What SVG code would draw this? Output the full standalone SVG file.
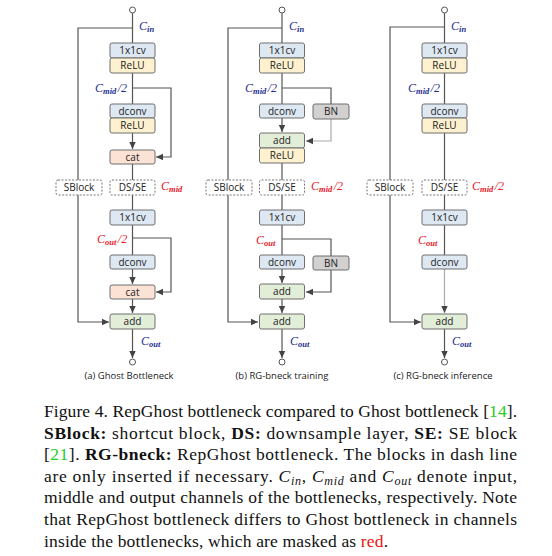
<svg xmlns="http://www.w3.org/2000/svg" width="552" height="556" viewBox="0 0 552 556">
<defs>
<marker id="ah" markerUnits="userSpaceOnUse" markerWidth="8" markerHeight="8" viewBox="0 0 8 8" refX="7" refY="4" orient="auto">
<path d="M0,0.8 L7,4 L0,7.2 Z" fill="#444"/>
</marker>
<style>
.b{stroke:#6f6f6f;stroke-width:1;}
.cv{fill:#dde8f3;}
.re{fill:#fdf1cf;}
.ca{fill:#fbe2d4;}
.ad{fill:#e3eed9;}
.bn{fill:#d3d0d0;}
.ds{fill:#fff;stroke:#777;stroke-width:1;stroke-dasharray:2,1.5;}
.t{font-family:"Open Sans","Liberation Sans",sans-serif;font-size:10px;fill:#222;text-anchor:middle;}
.l{fill:none;stroke:#555;stroke-width:1.2;}
.lg{fill:none;stroke:#aaa;stroke-width:1.2;}
.c{font-family:"Liberation Serif",serif;font-style:italic;font-size:12px;}
.nv{fill:#1f2f8f;}
.rd{fill:#e8202a;}
.s{font-size:8.5px;font-weight:bold;}
.cap{font-family:"Open Sans","Liberation Sans",sans-serif;font-size:9.5px;fill:#222;text-anchor:middle;}
.tx{font-family:"Liberation Serif","Times New Roman",serif;font-size:17.5px;fill:#111;}
.bd{font-weight:bold;}
.gr{fill:#22cc22;}
.it{font-style:italic;}
</style>
</defs>

<!-- connectors -->
<g id="connectors">
<!-- panel a -->
<path class="l" d="M132.5,13 V43"/>
<path class="l" d="M132.5,28 H78 V180"/>
<path class="l" d="M78,195 V322 H109" marker-end="url(#ah)"/>
<path class="l" d="M132.5,73 V104"/>
<path class="l" d="M132.5,88 H171 V157 H156" marker-end="url(#ah)"/>
<path class="l" d="M132.5,133 V149" marker-end="url(#ah)"/>
<path class="l" d="M132.5,164 V180"/>
<path class="l" d="M132.5,195 V210"/>
<path class="l" d="M132.5,225 V255"/>
<path class="l" d="M132.5,238 H171 V292 H156" marker-end="url(#ah)"/>
<path class="l" d="M132.5,269 V284" marker-end="url(#ah)"/>
<path class="l" d="M132.5,299 V313" marker-end="url(#ah)"/>
<path class="l" d="M132.5,329 V358" marker-end="url(#ah)"/>
<!-- panel b -->
<path class="l" d="M282,13 V43"/>
<path class="l" d="M282,28 H228 V180"/>
<path class="l" d="M228,195 V322 H258" marker-end="url(#ah)"/>
<path class="l" d="M282,73 V104"/>
<path class="l" d="M282,88 H331 V104"/>
<path class="lg" d="M331,119 V141 H306" marker-end="url(#ah)"/>
<path class="l" d="M282,118 V132" marker-end="url(#ah)"/>
<path class="l" d="M282,163 V180"/>
<path class="l" d="M282,195 V210"/>
<path class="l" d="M282,225 V255"/>
<path class="l" d="M282,239 H331 V256"/>
<path class="l" d="M331,270 V292 H306" marker-end="url(#ah)"/>
<path class="l" d="M282,269 V283" marker-end="url(#ah)"/>
<path class="l" d="M282,299 V313" marker-end="url(#ah)"/>
<path class="l" d="M282,329 V358" marker-end="url(#ah)"/>
<!-- panel c -->
<path class="l" d="M444.5,13 V43"/>
<path class="l" d="M444.5,27 H390 V180"/>
<path class="l" d="M390,195 V322 H421" marker-end="url(#ah)"/>
<path class="l" d="M444.5,73 V104"/>
<path class="l" d="M444.5,133 V180"/>
<path class="l" d="M444.5,195 V210"/>
<path class="l" d="M444.5,225 V255"/>
<path class="lg" d="M444.5,269 V313" marker-end="url(#ah)"/>
<path class="l" d="M444.5,329 V358" marker-end="url(#ah)"/>
</g>

<!-- terminals -->
<g id="terminals" fill="#fff" stroke="#555" stroke-width="1">
<circle cx="132.5" cy="10" r="3"/><circle cx="132.5" cy="362" r="3"/>
<circle cx="282" cy="10" r="3"/><circle cx="282" cy="362" r="3"/>
<circle cx="444.5" cy="10" r="3"/><circle cx="444.5" cy="362" r="3"/>
</g>

<!-- panel a nodes -->
<g id="a-1x1cv"><rect class="b cv" x="110" y="43" width="45" height="15" rx="2"/><text class="t" x="132.5" y="54">1x1cv</text></g>
<g id="a-relu1"><rect class="b re" x="110" y="58" width="45" height="15" rx="2"/><text class="t" x="132.5" y="69">ReLU</text></g>
<g id="a-dconv"><rect class="b cv" x="110" y="104" width="45" height="14" rx="2"/><text class="t" x="132.5" y="114.5">dconv</text></g>
<g id="a-relu2"><rect class="b re" x="110" y="118" width="45" height="15" rx="2"/><text class="t" x="132.5" y="129">ReLU</text></g>
<g id="a-cat1"><rect class="b ca" x="110" y="150" width="45" height="14" rx="2"/><text class="t" x="132.5" y="160.5">cat</text></g>
<g id="a-sblock"><rect class="ds" x="56" y="180" width="46" height="15" rx="2"/><text class="t" x="79" y="191">SBlock</text></g>
<g id="a-dsse"><rect class="ds" x="110" y="180" width="45" height="15" rx="2"/><text class="t" x="132.5" y="191">DS/SE</text></g>
<g id="a-1x1cv2"><rect class="b cv" x="110" y="210" width="45" height="15" rx="2"/><text class="t" x="132.5" y="221">1x1cv</text></g>
<g id="a-dconv2"><rect class="b cv" x="110" y="255" width="45" height="14" rx="2"/><text class="t" x="132.5" y="265.5">dconv</text></g>
<g id="a-cat2"><rect class="b ca" x="110" y="285" width="45" height="14" rx="2"/><text class="t" x="132.5" y="295.5">cat</text></g>
<g id="a-add"><rect class="b ad" x="110" y="314" width="45" height="15" rx="2"/><text class="t" x="132.5" y="325">add</text></g>

<!-- panel b nodes -->
<g id="b-1x1cv"><rect class="b cv" x="259.5" y="43" width="45" height="15" rx="2"/><text class="t" x="282" y="54">1x1cv</text></g>
<g id="b-relu1"><rect class="b re" x="259.5" y="58" width="45" height="15" rx="2"/><text class="t" x="282" y="69">ReLU</text></g>
<g id="b-dconv"><rect class="b cv" x="259.5" y="104" width="45" height="14" rx="2"/><text class="t" x="282" y="114.5">dconv</text></g>
<g id="b-bn1"><rect class="b bn" x="313" y="104" width="36" height="15" rx="2"/><text class="t" x="331" y="115">BN</text></g>
<g id="b-add1"><rect class="b ad" x="259.5" y="133" width="45" height="15" rx="2"/><text class="t" x="282" y="144">add</text></g>
<g id="b-relu2"><rect class="b re" x="259.5" y="148" width="45" height="15" rx="2"/><text class="t" x="282" y="159">ReLU</text></g>
<g id="b-sblock"><rect class="ds" x="206" y="180" width="46" height="15" rx="2"/><text class="t" x="229" y="191">SBlock</text></g>
<g id="b-dsse"><rect class="ds" x="259.5" y="180" width="45" height="15" rx="2"/><text class="t" x="282" y="191">DS/SE</text></g>
<g id="b-1x1cv2"><rect class="b cv" x="259.5" y="210" width="45" height="15" rx="2"/><text class="t" x="282" y="221">1x1cv</text></g>
<g id="b-dconv2"><rect class="b cv" x="259.5" y="255" width="45" height="14" rx="2"/><text class="t" x="282" y="265.5">dconv</text></g>
<g id="b-bn2"><rect class="b bn" x="313" y="256" width="36" height="14" rx="2"/><text class="t" x="331" y="266.5">BN</text></g>
<g id="b-add2"><rect class="b ad" x="259.5" y="284" width="45" height="15" rx="2"/><text class="t" x="282" y="295">add</text></g>
<g id="b-add3"><rect class="b ad" x="259.5" y="314" width="45" height="15" rx="2"/><text class="t" x="282" y="325">add</text></g>

<!-- panel c nodes -->
<g id="c-1x1cv"><rect class="b cv" x="422" y="43" width="45" height="15" rx="2"/><text class="t" x="444.5" y="54">1x1cv</text></g>
<g id="c-relu1"><rect class="b re" x="422" y="58" width="45" height="15" rx="2"/><text class="t" x="444.5" y="69">ReLU</text></g>
<g id="c-dconv"><rect class="b cv" x="422" y="104" width="45" height="14" rx="2"/><text class="t" x="444.5" y="114.5">dconv</text></g>
<g id="c-relu2"><rect class="b re" x="422" y="118" width="45" height="15" rx="2"/><text class="t" x="444.5" y="129">ReLU</text></g>
<g id="c-sblock"><rect class="ds" x="367" y="180" width="46" height="15" rx="2"/><text class="t" x="390" y="191">SBlock</text></g>
<g id="c-dsse"><rect class="ds" x="422" y="180" width="45" height="15" rx="2"/><text class="t" x="444.5" y="191">DS/SE</text></g>
<g id="c-1x1cv2"><rect class="b cv" x="422" y="210" width="45" height="15" rx="2"/><text class="t" x="444.5" y="221">1x1cv</text></g>
<g id="c-dconv2"><rect class="b cv" x="422" y="255" width="45" height="14" rx="2"/><text class="t" x="444.5" y="265.5">dconv</text></g>
<g id="c-add"><rect class="b ad" x="422" y="314" width="45" height="15" rx="2"/><text class="t" x="444.5" y="325">add</text></g>

<!-- channel labels -->
<g id="labels">
<text class="c nv" x="139" y="30">C<tspan class="s" dy="2">in</tspan></text>
<text class="c nv" x="95" y="92">C<tspan class="s" dy="2">mid</tspan><tspan dx="1.5" dy="-2">/2</tspan></text>
<text class="c rd" x="161" y="190">C<tspan class="s" dy="2">mid</tspan></text>
<text class="c rd" x="97" y="243">C<tspan class="s" dy="2">out</tspan><tspan dx="1.5" dy="-2">/2</tspan></text>
<text class="c nv" x="141" y="345">C<tspan class="s" dy="2">out</tspan></text>

<text class="c nv" x="289" y="30">C<tspan class="s" dy="2">in</tspan></text>
<text class="c nv" x="245" y="92">C<tspan class="s" dy="2">mid</tspan><tspan dx="1.5" dy="-2">/2</tspan></text>
<text class="c rd" x="311" y="190">C<tspan class="s" dy="2">mid</tspan><tspan dx="1.5" dy="-2">/2</tspan></text>
<text class="c rd" x="256" y="244">C<tspan class="s" dy="2">out</tspan></text>
<text class="c nv" x="290" y="345">C<tspan class="s" dy="2">out</tspan></text>

<text class="c nv" x="451" y="30">C<tspan class="s" dy="2">in</tspan></text>
<text class="c nv" x="408" y="92">C<tspan class="s" dy="2">mid</tspan><tspan dx="1.5" dy="-2">/2</tspan></text>
<text class="c rd" x="472" y="190">C<tspan class="s" dy="2">mid</tspan><tspan dx="1.5" dy="-2">/2</tspan></text>
<text class="c rd" x="418" y="244">C<tspan class="s" dy="2">out</tspan></text>
<text class="c nv" x="452" y="345">C<tspan class="s" dy="2">out</tspan></text>
</g>

<g id="panel-captions">
<text class="cap" x="129" y="379">(a) Ghost Bottleneck</text>
<text class="cap" x="282" y="379">(b) RG-bneck training</text>
<text class="cap" x="443" y="379">(c) RG-bneck inference</text>
</g>

<g id="figure-caption" class="tx">
<text x="44" y="417" textLength="473" lengthAdjust="spacing">Figure 4. RepGhost bottleneck compared to Ghost bottleneck [<tspan class="gr">14</tspan>].</text>
<text x="44" y="439" textLength="473" lengthAdjust="spacing"><tspan class="bd">SBlock:</tspan> shortcut block, <tspan class="bd">DS:</tspan> downsample layer, <tspan class="bd">SE:</tspan> SE block</text>
<text x="44" y="460" textLength="473" lengthAdjust="spacing">[<tspan class="gr">21</tspan>]. <tspan class="bd">RG-bneck:</tspan> RepGhost bottleneck. The blocks in dash line</text>
<text x="44" y="482" textLength="473" lengthAdjust="spacing">are only inserted if necessary. <tspan class="it">C</tspan><tspan class="it" font-size="12" dy="3">in</tspan><tspan dy="-3">, </tspan><tspan class="it">C</tspan><tspan class="it" font-size="12" dy="3">mid</tspan><tspan dy="-3"> and </tspan><tspan class="it">C</tspan><tspan class="it" font-size="12" dy="3">out</tspan><tspan dy="-3"> denote input,</tspan></text>
<text x="44" y="503" textLength="473" lengthAdjust="spacing">middle and output channels of the bottlenecks, respectively. Note</text>
<text x="44" y="525" textLength="473" lengthAdjust="spacing">that RepGhost bottleneck differs to Ghost bottleneck in channels</text>
<text x="44" y="547" textLength="344" lengthAdjust="spacing">inside the bottlenecks, which are masked as <tspan fill="#ee1111">red</tspan>.</text>
</g>
</svg>
